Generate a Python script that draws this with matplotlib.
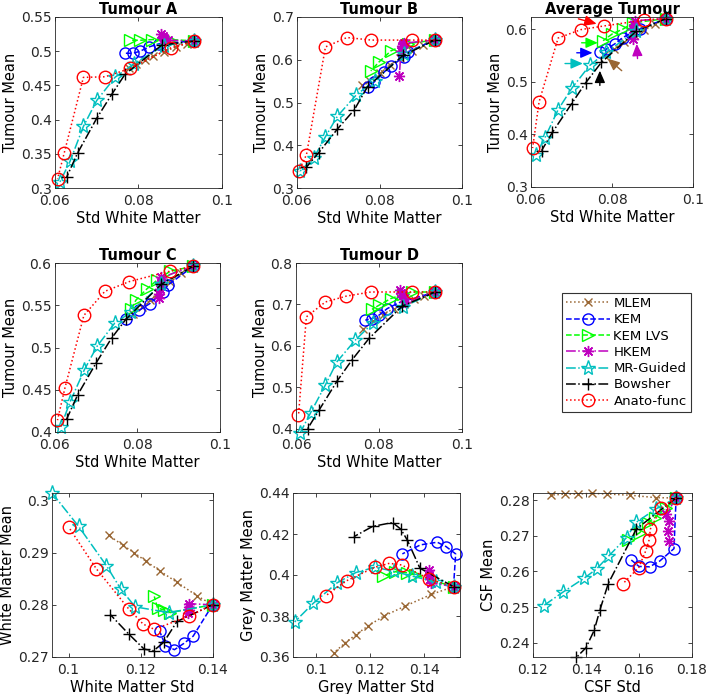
import matplotlib
matplotlib.use('Agg')
import matplotlib.pyplot as plt
from matplotlib.ticker import FuncFormatter

# Method order, colours, styles (legend order)
methods = ['MLEM', 'KEM', 'KEM LVS', 'HKEM', 'MR-Guided', 'Bowsher', 'Anato-func']

# --- data: (std values, mean values) per method ---
tumour_a = {
    'MLEM': ([0.0934, 0.0915, 0.089, 0.086, 0.0835, 0.0815, 0.0795, 0.0778],
             [0.515, 0.511, 0.506, 0.499, 0.493, 0.487, 0.481, 0.476]),
    'KEM': ([0.0934, 0.085, 0.0824, 0.0804, 0.0787, 0.0768],
            [0.515, 0.511, 0.506, 0.500, 0.497, 0.497]),
    'KEM LVS': ([0.0934, 0.0876, 0.0832, 0.0804, 0.078],
                [0.515, 0.517, 0.517, 0.516, 0.516]),
    'HKEM': ([0.0934, 0.087, 0.0862, 0.086, 0.0858, 0.0855],
             [0.515, 0.516, 0.517, 0.519, 0.522, 0.525]),
    'MR-Guided': ([0.0934, 0.086, 0.079, 0.0744, 0.070, 0.0668, 0.0636, 0.0612],
                  [0.515, 0.508, 0.482, 0.462, 0.428, 0.390, 0.339, 0.309]),
    'Bowsher': ([0.0934, 0.0856, 0.0768, 0.0736, 0.070, 0.0654, 0.0628],
                [0.515, 0.509, 0.4665, 0.437, 0.402, 0.351, 0.316]),
    'Anato-func': ([0.0934, 0.0878, 0.078, 0.072, 0.0668, 0.0622, 0.0606],
                   [0.515, 0.505, 0.4748, 0.4626, 0.4617, 0.351, 0.313]),
}

tumour_b = {
    'MLEM': ([0.0934, 0.0906, 0.088, 0.085, 0.0825, 0.080, 0.0775, 0.0757],
             [0.646, 0.634, 0.620, 0.603, 0.588, 0.570, 0.553, 0.540]),
    'KEM': ([0.0934, 0.087, 0.086, 0.0828, 0.0811, 0.0787, 0.0772],
            [0.646, 0.619, 0.607, 0.586, 0.571, 0.548, 0.536]),
    'KEM LVS': ([0.0934, 0.087, 0.0828, 0.0799, 0.0779],
                [0.646, 0.638, 0.621, 0.595, 0.574]),
    'HKEM': ([0.0934, 0.086, 0.0858, 0.0855, 0.0852, 0.0848],
             [0.646, 0.639, 0.636, 0.632, 0.620, 0.561]),
    'MR-Guided': ([0.0934, 0.086, 0.0788, 0.0743, 0.0698, 0.0669, 0.0641, 0.0607],
                  [0.646, 0.613, 0.551, 0.517, 0.468, 0.420, 0.371, 0.339]),
    'Bowsher': ([0.0934, 0.0857, 0.0771, 0.0739, 0.0698, 0.0653, 0.0623],
                [0.646, 0.610, 0.537, 0.483, 0.438, 0.383, 0.349]),
    'Anato-func': ([0.0934, 0.088, 0.078, 0.0721, 0.0669, 0.0623, 0.0604],
                   [0.646, 0.646, 0.646, 0.652, 0.630, 0.378, 0.339]),
}

tumour_avg = {
    'MLEM': ([0.0934, 0.0905, 0.088, 0.0855, 0.083, 0.0805, 0.078],
             [0.620, 0.609, 0.598, 0.588, 0.576, 0.563, 0.550]),
    'KEM': ([0.0934, 0.0868, 0.0848, 0.0827, 0.0807, 0.0786, 0.077],
            [0.620, 0.600, 0.593, 0.584, 0.572, 0.562, 0.556]),
    'KEM LVS': ([0.0934, 0.0852, 0.0827, 0.0801, 0.0778],
                [0.620, 0.612, 0.600, 0.591, 0.578]),
    'HKEM': ([0.0934, 0.0858, 0.0855, 0.0853, 0.0852],
             [0.620, 0.616, 0.608, 0.600, 0.581]),
    'MR-Guided': ([0.0934, 0.086, 0.0786, 0.0745, 0.0702, 0.0667, 0.0634, 0.0612],
                  [0.620, 0.597, 0.556, 0.531, 0.489, 0.447, 0.393, 0.361]),
    'Bowsher': ([0.0934, 0.086, 0.0774, 0.0735, 0.070, 0.0653, 0.0626],
                [0.620, 0.596, 0.537, 0.498, 0.458, 0.404, 0.369]),
    'Anato-func': ([0.0934, 0.0878, 0.078, 0.0723, 0.0667, 0.062, 0.0604],
                   [0.620, 0.617, 0.606, 0.599, 0.583, 0.462, 0.374]),
}

# arrows in the average tumour panel: tail -> head (data units)
avg_arrow_from = {'Anato-func': (0.0717, 0.6195), 'KEM LVS': (0.0725, 0.574),
                  'KEM': (0.0713, 0.555), 'MR-Guided': (0.0684, 0.5346),
                  'MLEM': (0.0824, 0.521), 'Bowsher': (0.077, 0.493),
                  'HKEM': (0.0863, 0.544)}
avg_arrow_to = {'Anato-func': (0.0762, 0.610), 'KEM LVS': (0.0765, 0.574),
                'KEM': (0.0752, 0.555), 'MR-Guided': (0.0728, 0.5346),
                'MLEM': (0.0789, 0.544), 'Bowsher': (0.077, 0.521),
                'HKEM': (0.0861, 0.572)}

tumour_c = {
    'MLEM': ([0.0935, 0.0905, 0.088, 0.085, 0.083, 0.081, 0.079],
             [0.596, 0.588, 0.578, 0.565, 0.556, 0.548, 0.540]),
    'KEM': ([0.0935, 0.0874, 0.0862, 0.083, 0.0804, 0.0772],
            [0.596, 0.574, 0.566, 0.552, 0.544, 0.534]),
    'KEM LVS': ([0.0935, 0.088, 0.0848, 0.0822, 0.0796, 0.0785],
                [0.596, 0.5905, 0.580, 0.569, 0.556, 0.545]),
    'HKEM': ([0.0935, 0.0858, 0.0856, 0.0855, 0.0853, 0.0853],
             [0.596, 0.583, 0.577, 0.569, 0.563, 0.558]),
    'MR-Guided': ([0.0935, 0.0858, 0.0785, 0.0745, 0.0702, 0.0671, 0.0636, 0.0614],
                  [0.596, 0.575, 0.542, 0.529, 0.5015, 0.4735, 0.435, 0.406]),
    'Bowsher': ([0.0935, 0.0858, 0.0772, 0.0737, 0.070, 0.0655, 0.0628],
                [0.596, 0.575, 0.5335, 0.511, 0.482, 0.444, 0.415]),
    'Anato-func': ([0.0935, 0.088, 0.078, 0.0721, 0.067, 0.0624, 0.0606],
                   [0.596, 0.5905, 0.578, 0.5665, 0.538, 0.452, 0.414]),
}

tumour_d = {
    'MLEM': ([0.0936, 0.0908, 0.0885, 0.086, 0.0835, 0.081, 0.0785, 0.0761],
             [0.730, 0.720, 0.712, 0.700, 0.690, 0.675, 0.660, 0.640]),
    'KEM': ([0.0936, 0.085, 0.082, 0.080, 0.0783, 0.0767],
            [0.730, 0.705, 0.690, 0.674, 0.666, 0.662]),
    'KEM LVS': ([0.0936, 0.088, 0.0858, 0.0828, 0.080, 0.0783],
                [0.730, 0.730, 0.724, 0.714, 0.698, 0.688]),
    'HKEM': ([0.0936, 0.0863, 0.086, 0.0857, 0.0854, 0.0851],
             [0.730, 0.705, 0.715, 0.722, 0.728, 0.735]),
    'MR-Guided': ([0.0936, 0.0858, 0.0785, 0.0743, 0.0699, 0.0671, 0.0635, 0.061],
                  [0.730, 0.694, 0.655, 0.614, 0.562, 0.506, 0.438, 0.390]),
    'Bowsher': ([0.0936, 0.0856, 0.0776, 0.0735, 0.0699, 0.0655, 0.0628],
                [0.730, 0.696, 0.618, 0.566, 0.515, 0.444, 0.400]),
    'Anato-func': ([0.0936, 0.088, 0.078, 0.0721, 0.0671, 0.0625, 0.0606],
                   [0.730, 0.730, 0.730, 0.720, 0.706, 0.670, 0.432]),
}

white_matter = {
    'MLEM': ([0.14, 0.1357, 0.1301, 0.1255, 0.1216, 0.1181, 0.1151, 0.1111],
             [0.28, 0.2817, 0.2843, 0.2864, 0.2883, 0.290, 0.2914, 0.2933]),
    'KEM': ([0.14, 0.1346, 0.132, 0.1294, 0.1269, 0.1253],
            [0.28, 0.274, 0.2726, 0.2714, 0.2722, 0.2749]),
    'KEM LVS': ([0.14, 0.1282, 0.1266, 0.1247, 0.1238],
                [0.28, 0.2785, 0.279, 0.2794, 0.2816]),
    'HKEM': ([0.14, 0.1335, 0.1333, 0.1333, 0.1332],
             [0.28, 0.2802, 0.2796, 0.279, 0.2784]),
    'MR-Guided': ([0.14, 0.1278, 0.1185, 0.1145, 0.1105, 0.1028, 0.0954],
                  [0.28, 0.2785, 0.2796, 0.283, 0.2875, 0.295, 0.3014]),
    'Bowsher': ([0.14, 0.1301, 0.1264, 0.1236, 0.121, 0.1167, 0.1116],
                [0.28, 0.2768, 0.2728, 0.2712, 0.2715, 0.2744, 0.2781]),
    'Anato-func': ([0.14, 0.1333, 0.1238, 0.1207, 0.1167, 0.1077, 0.1],
                   [0.28, 0.2778, 0.2753, 0.2763, 0.2792, 0.2869, 0.2949]),
}

grey_matter = {
    'MLEM': ([0.1509, 0.1426, 0.133, 0.1252, 0.1194, 0.1148, 0.1108, 0.1067],
             [0.3943, 0.3905, 0.3848, 0.380, 0.3752, 0.3709, 0.3668, 0.3621]),
    'KEM': ([0.1509, 0.1517, 0.1481, 0.1449, 0.1387, 0.132],
            [0.3943, 0.4103, 0.4139, 0.416, 0.4147, 0.4103]),
    'KEM LVS': ([0.1509, 0.1367, 0.1336, 0.1293, 0.1249],
                [0.3943, 0.400, 0.4011, 0.4016, 0.3995]),
    'HKEM': ([0.1509, 0.1425, 0.1422, 0.142, 0.1418],
             [0.3943, 0.3962, 0.398, 0.400, 0.4025]),
    'MR-Guided': ([0.1509, 0.1445, 0.1355, 0.1288, 0.1219, 0.1148, 0.1079, 0.099, 0.0922],
                  [0.3943, 0.3965, 0.3995, 0.4018, 0.4038, 0.4012, 0.3962, 0.3861, 0.3771]),
    'Bowsher': ([0.1509, 0.1385, 0.1338, 0.1314, 0.1284, 0.121, 0.1141],
                [0.3943, 0.4033, 0.4171, 0.4224, 0.4256, 0.4237, 0.4187]),
    'Anato-func': ([0.1509, 0.142, 0.1317, 0.1272, 0.1219, 0.1114, 0.1037],
                   [0.3943, 0.398, 0.4049, 0.4057, 0.4038, 0.3972, 0.3899]),
}

csf = {
    'MLEM': ([0.174, 0.1663, 0.1565, 0.148, 0.1421, 0.1368, 0.1321, 0.1268],
             [0.2806, 0.2807, 0.2814, 0.2817, 0.2819, 0.2817, 0.2817, 0.2814]),
    'KEM': ([0.174, 0.1732, 0.1678, 0.164, 0.160, 0.1571],
            [0.2806, 0.2664, 0.2629, 0.2613, 0.2614, 0.2632]),
    'KEM LVS': ([0.174, 0.1703, 0.1659, 0.1634, 0.1603, 0.1559],
                [0.2806, 0.2779, 0.2751, 0.2737, 0.2709, 0.2687]),
    'HKEM': ([0.174, 0.1703, 0.1713, 0.1709, 0.1713],
             [0.2806, 0.276, 0.2742, 0.2713, 0.2685]),
    'MR-Guided': ([0.174, 0.1663, 0.159, 0.1553, 0.1484, 0.144, 0.1393, 0.1313, 0.124],
                  [0.2806, 0.2775, 0.2738, 0.2695, 0.2642, 0.2607, 0.2581, 0.2542, 0.2504]),
    'Bowsher': ([0.174, 0.159, 0.1484, 0.1453, 0.1431, 0.14, 0.1364],
                [0.2806, 0.2719, 0.2566, 0.2493, 0.2435, 0.2386, 0.2359]),
    'Anato-func': ([0.174, 0.1684, 0.1643, 0.1638, 0.1625, 0.1599, 0.154],
                   [0.2806, 0.2779, 0.2719, 0.2688, 0.2657, 0.2611, 0.2566]),
}

# styles
brown = (0.6, 0.4, 0.2)
style = {
    'MLEM':       dict(color=brown, ls=':', marker='x', ms=6),
    'KEM':        dict(color='b', ls='--', marker='o', ms=8, mfc='none'),
    'KEM LVS':    dict(color=(0, 1, 0), ls='--', marker='>', ms=8, mfc='none'),
    'HKEM':       dict(color='m', ls='-.', marker=(8, 2, 0), ms=8),
    'MR-Guided':  dict(color='c', ls='-.', marker='*', ms=11, mfc='none'),
    'Bowsher':    dict(color='k', ls='-.', marker='+', ms=8),
    'Anato-func': dict(color='r', ls=':', marker='o', ms=9, mfc='none'),
}

plt.rcParams['font.family'] = ['DejaVu Sans']
W, H = 709, 694
fig = plt.figure(figsize=(W / 100, H / 100), dpi=100)


def px_axes(x0, y0, x1, y1):
    return fig.add_axes([x0 / W, 1 - y1 / H, (x1 - x0) / W, (y1 - y0) / H])


fmt = FuncFormatter(lambda v, p: '%g' % round(v, 4))


def draw(ax, data, xlim, ylim, xticks, yticks, xlabel, ylabel, title=None):
    for m in methods:
        xs, ys = data[m]
        ax.plot(xs, ys, lw=1.1, mew=1.0, clip_on=False, label=m, **style[m])
    ax.set_xlim(xlim)
    ax.set_ylim(ylim)
    ax.set_xticks(xticks)
    ax.set_yticks(yticks)
    ax.xaxis.set_major_formatter(fmt)
    ax.yaxis.set_major_formatter(fmt)
    ax.tick_params(direction='in', top=True, right=True, labelsize=10,
                   length=3, width=0.6, colors='0.15', pad=2.5)
    ax.tick_params(axis='x', pad=4.5)
    for s in ax.spines.values():
        s.set_color('0.15')
        s.set_linewidth(0.6)
    ax.set_xlabel(xlabel, fontsize=10.5, labelpad=2)
    ax.set_ylabel(ylabel, fontsize=10.5, labelpad=2)
    if title:
        ax.set_title(title, fontsize=10.5, fontweight='bold', pad=2)


tx = [0.06, 0.08, 0.1]
ax_a = px_axes(55, 17, 222, 188)
draw(ax_a, tumour_a, (0.06, 0.1), (0.3, 0.55), tx, [0.3, 0.35, 0.4, 0.45, 0.5, 0.55],
     'Std White Matter', 'Tumour Mean', 'Tumour A')
ax_b = px_axes(297, 17, 462, 188)
draw(ax_b, tumour_b, (0.06, 0.1), (0.3, 0.7), tx, [0.3, 0.4, 0.5, 0.6, 0.7],
     'Std White Matter', 'Tumour Mean', 'Tumour B')
ax_g = px_axes(531, 17, 693, 187)
draw(ax_g, tumour_avg, (0.06, 0.1), (0.3, 0.623), tx, [0.3, 0.4, 0.5, 0.6],
     'Std White Matter', 'Tumour Mean', 'Average Tumour')
for m in methods:
    ax_g.annotate('', xy=avg_arrow_to[m], xytext=avg_arrow_from[m],
                  arrowprops=dict(arrowstyle='-|>,head_length=0.8,head_width=0.35',
                                  color=style[m]['color'], lw=1.0,
                                  mutation_scale=9, shrinkA=0, shrinkB=0))

ax_c = px_axes(55, 263, 220, 432)
draw(ax_c, tumour_c, (0.06, 0.1), (0.4, 0.6), tx, [0.4, 0.45, 0.5, 0.55, 0.6],
     'Std White Matter', 'Tumour Mean', 'Tumour C')
ax_d = px_axes(296, 263, 462, 432)
draw(ax_d, tumour_d, (0.06, 0.1), (0.392, 0.8), tx, [0.4, 0.5, 0.6, 0.7, 0.8],
     'Std White Matter', 'Tumour Mean', 'Tumour D')

ax_w = px_axes(52, 493, 213, 657)
draw(ax_w, white_matter, (0.0954, 0.1401), (0.27, 0.3014), [0.1, 0.12, 0.14],
     [0.27, 0.28, 0.29, 0.3], 'White Matter Std', 'White Matter Mean')
ax_gm = px_axes(293, 493, 460, 657)
draw(ax_gm, grey_matter, (0.0916, 0.1533), (0.36, 0.44), [0.1, 0.12, 0.14],
     [0.36, 0.38, 0.4, 0.42, 0.44], 'Grey Matter Std', 'Grey Matter Mean')
ax_s = px_axes(533, 493, 692, 657)
draw(ax_s, csf, (0.12, 0.18), (0.236, 0.282), [0.12, 0.14, 0.16, 0.18],
     [0.24, 0.25, 0.26, 0.27, 0.28], 'CSF Std', 'CSF Mean')

handles, labels = ax_a.get_legend_handles_labels()
leg = fig.legend(handles, labels, loc='upper left',
                 bbox_to_anchor=(562 / W, 1 - 293 / H), fancybox=False,
                 edgecolor='0.2', framealpha=1, fontsize=9.5, numpoints=1,
                 handlelength=3.3, labelspacing=0.25, borderpad=0.3,
                 handletextpad=0.3, borderaxespad=0)
leg.get_frame().set_linewidth(0.8)

fig.savefig('out.png', dpi=100)
